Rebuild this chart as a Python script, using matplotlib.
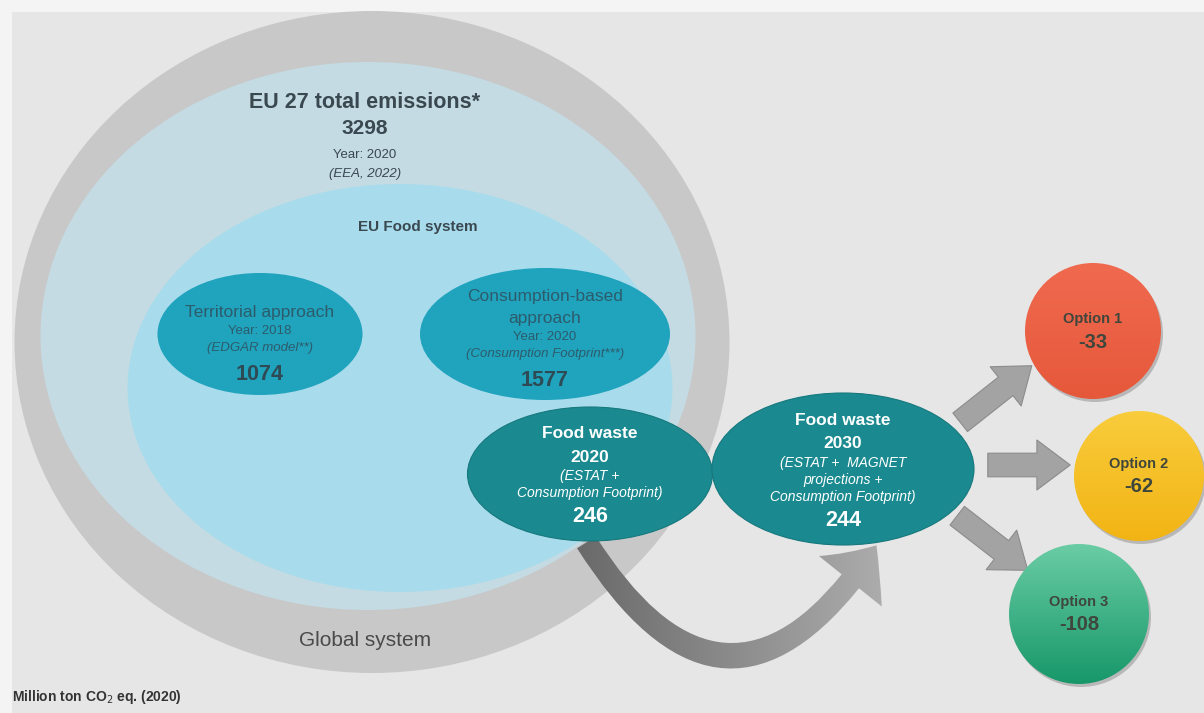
import matplotlib.pyplot as plt
import numpy as np
from matplotlib.colors import to_rgb
from matplotlib.patches import Ellipse, Circle, FancyArrowPatch, Rectangle

# Dados do diagrama
total_label = 'EU 27 total emissions*'
total_value = 3298
total_notes = ['Year: 2020', '(EEA, 2022)']

approach_titles = [['Territorial approach'], ['Consumption-based', 'approach']]
approach_years = ['Year: 2018', 'Year: 2020']
approach_sources = ['(EDGAR model**)', '(Consumption Footprint***)']
approach_values = [1074, 1577]

waste_years = ['2020', '2030']
waste_sources = [['(ESTAT +', 'Consumption Footprint)'],
                 ['(ESTAT +  MAGNET', 'projections +', 'Consumption Footprint)']]
waste_values = [246, 244]

option_labels = ['Option 1', 'Option 2', 'Option 3']
option_values = [-33, -62, -108]

FONT = 'Liberation Sans'
DARK = '#3a4850'

fig = plt.figure(figsize=(12.04, 7.13), dpi=100)
fig.patch.set_facecolor('#f4f4f4')
ax = fig.add_axes([0, 0, 1, 1])
ax.set_xlim(0, 1204)
ax.set_ylim(713, 0)
ax.axis('off')

# fundo do slide
ax.add_patch(Rectangle((12, 12), 1192, 701, facecolor='#e6e6e6', edgecolor='none'))

# elipses grandes (sistemas)
ax.add_patch(Ellipse((372, 342), 715, 662, facecolor='#c8c8c8', edgecolor='none'))
ax.add_patch(Ellipse((368, 336), 655, 548, facecolor='#c4dbe3', edgecolor='none'))
ax.add_patch(Ellipse((400, 388), 545, 408, facecolor='#a8dcec', edgecolor='none'))


def txt(x, y, s, size, color=DARK, weight='normal', style='normal', z=5):
    ax.text(x, y, s, fontsize=size, color=color, fontweight=weight, fontstyle=style,
            family=FONT, ha='center', va='center', zorder=z)


def gradient_fill(patch, extent, c1, c2, vertical=True):
    t = np.linspace(0, 1, 128)
    a, b = np.array(to_rgb(c1)), np.array(to_rgb(c2))
    cols = a * (1 - t[:, None]) + b * t[:, None]
    if vertical:
        grad = cols[:, None, :].repeat(2, axis=1)
    else:
        grad = cols[None, :, :].repeat(2, axis=0)
    im = ax.imshow(grad, extent=extent, zorder=patch.get_zorder(), aspect='auto',
                   interpolation='bilinear')
    im.set_clip_path(patch)


txt(365, 103, total_label, 15.5, weight='bold')
txt(365, 129, str(total_value), 15, weight='bold')
txt(365, 155, total_notes[0], 9.5)
txt(365, 174, total_notes[1], 9.5, style='italic')
txt(418, 227, 'EU Food system', 11, weight='bold')
txt(365, 641, 'Global system', 15, color='#4a4a4a')

# abordagens
approach_pos = [(260, 334, 205, 122), (545, 334, 250, 132)]
title_last_y = [312, 318]
for i, (cx, cy, w, h) in enumerate(approach_pos):
    ax.add_patch(Ellipse((cx, cy), w, h, facecolor='#20a3bd', edgecolor='none'))
    lines = approach_titles[i]
    y = title_last_y[i]
    for j, t in enumerate(lines):
        txt(cx, y - 21 * (len(lines) - 1 - j), t, 12.5, color='#2c5c6c')
    txt(cx, y + 19, approach_years[i], 9.5, color='#2c5c6c')
    txt(cx, y + 36, approach_sources[i], 9.5, color='#2c5c6c', style='italic')
    txt(cx, y + 62, str(approach_values[i]), 15.5, color='#2e4a55', weight='bold')

# seta curva 2020 -> 2030
curve = FancyArrowPatch((585, 540), (878, 543), connectionstyle='arc3,rad=0.78',
                        arrowstyle='simple,head_width=58,head_length=32,tail_width=16',
                        facecolor='none', edgecolor='none', mutation_scale=1, zorder=2)
ax.add_patch(curve)
gradient_fill(curve, (560, 920, 690, 520), '#666666', '#b4b4b4', vertical=False)

# desperdicio alimentar
waste_pos = [(590, 474, 245, 134), (843, 469, 262, 152)]
for i, (cx, cy, w, h) in enumerate(waste_pos):
    ax.add_patch(Ellipse((cx, cy), w, h, facecolor='#1a8a90', edgecolor='#16787d',
                         linewidth=0.8, zorder=3))
    src = waste_sources[i]
    y = cy - 40 - 8.5 * (len(src) - 2)
    txt(cx, y, 'Food waste', 12.5, color='white', weight='bold')
    txt(cx, y + 23, waste_years[i], 12.5, color='white', weight='bold')
    for j, s in enumerate(src):
        txt(cx, y + 42 + 17.5 * j, s, 10, color='white', style='italic')
    txt(cx, y + 42 + 17.5 * (len(src) - 1) + 23, str(waste_values[i]), 15.5,
        color='white', weight='bold')

# setas retas
arrows = [((958, 424), (1034, 364)), ((985, 465), (1073, 465)), ((955, 514), (1030, 572))]
for a, b in arrows:
    ax.add_patch(FancyArrowPatch(a, b, arrowstyle='simple,head_width=36,head_length=24,tail_width=17',
                                 mutation_scale=1, facecolor='#a3a3a3', edgecolor='#8c8c8c',
                                 linewidth=0.8, zorder=3))

# opcoes (circulos com gradiente)
option_pos = [(1093, 331, 68), (1139, 476, 65), (1079, 614, 70)]
option_cols = [('#f06a50', '#e6583a'), ('#f9cc3c', '#f2b414'), ('#6acca4', '#17986a')]
for i, (cx, cy, r) in enumerate(option_pos):
    ax.add_patch(Circle((cx + 2, cy + 3), r, facecolor='#b8b8b8', edgecolor='none', zorder=3))
    disc = Circle((cx, cy), r, facecolor='none', edgecolor='none', zorder=4)
    ax.add_patch(disc)
    gradient_fill(disc, (cx - r, cx + r, cy + r, cy - r), *option_cols[i])
    txt(cx, cy - 12, option_labels[i], 10.5, color='#3f463c', weight='bold')
    txt(cx, cy + 11, str(option_values[i]), 14.5, color='#3f463c', weight='bold')

ax.set_xlim(0, 1204)
ax.set_ylim(713, 0)

ax.text(12, 697, r'Million ton CO$_2$ eq. (2020)', fontsize=10, color='#333333',
        fontweight='bold', family=FONT, ha='left', va='center')

fig.savefig('out.png', dpi=100, facecolor=fig.get_facecolor())
